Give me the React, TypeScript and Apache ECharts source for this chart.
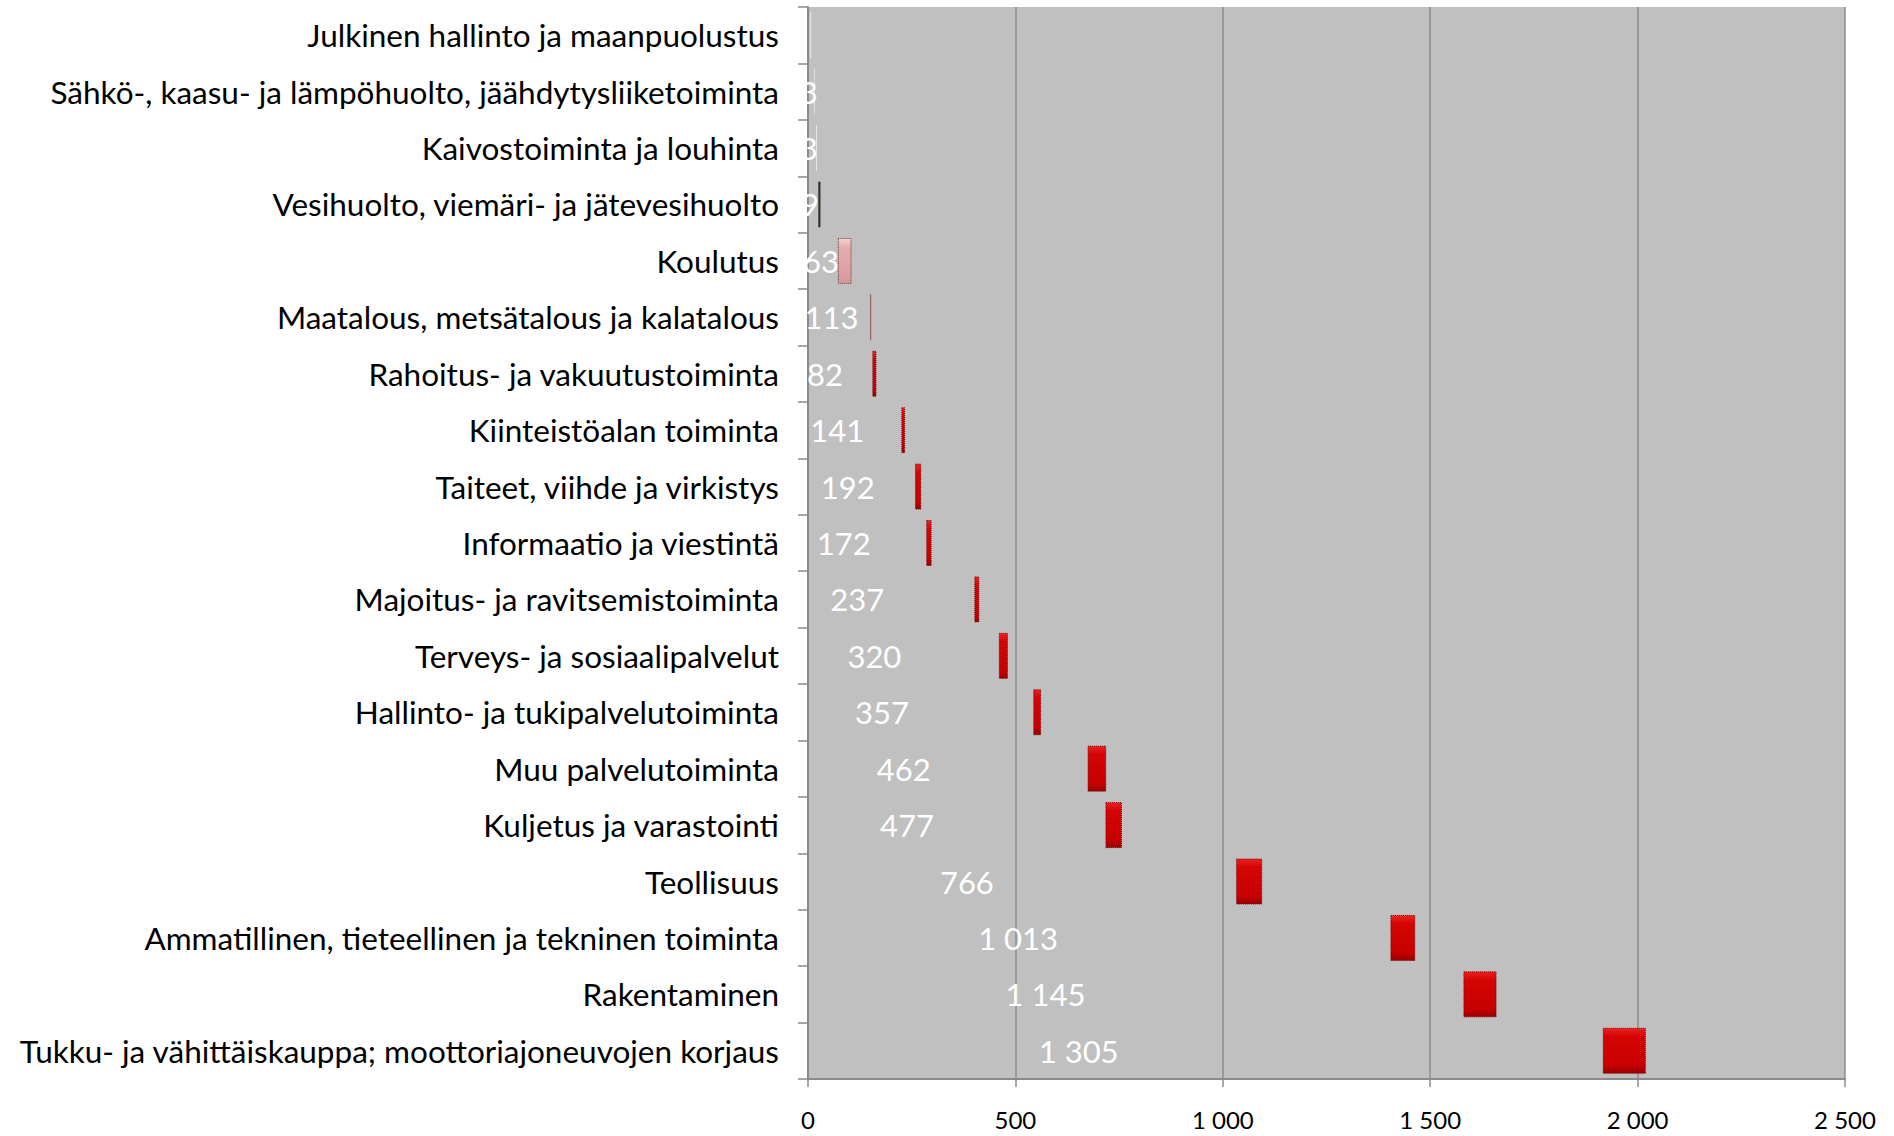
import React, { useEffect, useRef } from "react";
import * as echarts from "echarts";

const categories = [
  "Julkinen hallinto ja maanpuolustus",
  "Sähkö-, kaasu- ja lämpöhuolto, jäähdytysliiketoiminta",
  "Kaivostoiminta ja louhinta",
  "Vesihuolto, viemäri- ja jätevesihuolto",
  "Koulutus",
  "Maatalous, metsätalous ja kalatalous",
  "Rahoitus- ja vakuutustoiminta",
  "Kiinteistöalan toiminta",
  "Taiteet, viihde ja virkistys",
  "Informaatio ja viestintä",
  "Majoitus- ja ravitsemistoiminta",
  "Terveys- ja sosiaalipalvelut",
  "Hallinto- ja tukipalvelutoiminta",
  "Muu palvelutoiminta",
  "Kuljetus ja varastointi",
  "Teollisuus",
  "Ammatillinen, tieteellinen ja tekninen toiminta",
  "Rakentaminen",
  "Tukku- ja vähittäiskauppa; moottoriajoneuvojen korjaus",
];

// value shown as a label
const values: (number | null)[] = [
  null, 3, 3, 9, 63, 113, 82, 141, 192, 172, 237, 320, 357, 462, 477, 766, 1013, 1145, 1305,
];

// start and size of each box along the x axis
const boxStart = [
  6, 15, 20, 25, 72, 150, 155, 225, 258, 285, 401, 460, 543, 674, 717, 1032, 1404, 1580, 1916,
];
const boxSize = [
  1, 1, 1, 5, 33, 2, 10, 9, 15, 13, 12, 22, 19, 45, 40, 63, 60, 80, 104,
];
// tone of each box
const boxTone = [
  "blank", "blank", "blank", "dark", "pink", "line", "red", "red", "red", "red",
  "red", "red", "red", "red", "red", "red", "red", "red", "red",
];

const xTicks = [0, 500, 1000, 1500, 2000, 2500];

const fmt = (v: number) => String(v).replace(/\B(?=(\d{3})+(?!\d))/g, " ");

const redGrad = () =>
  new echarts.graphic.LinearGradient(0, 0, 0, 1, [
    { offset: 0, color: "#EE2020" },
    { offset: 0.18, color: "#D40404" },
    { offset: 0.82, color: "#C80000" },
    { offset: 1, color: "#980000" },
  ]);

const toneStyle = (tone: string) => {
  switch (tone) {
    case "blank":
      return { color: "rgba(255,255,255,0)", borderColor: "#F4F4F4", borderWidth: 1, borderType: "dotted" };
    case "dark":
      return { color: "#3A3A3A", borderColor: "#2A2A2A", borderWidth: 1 };
    case "pink":
      return {
        color: new echarts.graphic.LinearGradient(0, 0, 0, 1, [
          { offset: 0, color: "#F4D0D0" },
          { offset: 0.2, color: "#E4AEAE" },
          { offset: 1, color: "#D49A9A" },
        ]),
        borderColor: "#6A3A3A",
        borderWidth: 1,
        borderType: "dotted",
      };
    case "line":
      return { color: "#8A4A4A", borderColor: "#8A4A4A", borderWidth: 0.5 };
    default:
      return { color: redGrad(), borderColor: "#7A0000", borderWidth: 1, borderType: "dotted" };
  }
};

export default function App() {
  const ref = useRef<HTMLDivElement>(null);
  useEffect(() => {
    if (!ref.current) return;
    const chart = echarts.init(ref.current, null, { renderer: "svg" });
    const font = "Lato, 'Open Sans', sans-serif";
    chart.setOption({
      animation: false,
      grid: {
        left: 808,
        top: 7,
        right: 49,
        bottom: 57,
        show: true,
        backgroundColor: "#C0C0C0",
        borderWidth: 0,
      },
      xAxis: {
        type: "value",
        min: xTicks[0],
        max: xTicks[xTicks.length - 1],
        interval: 500,
        axisLine: { show: true, lineStyle: { color: "#8A8A8A", width: 2 } },
        axisTick: { show: true, length: 8, lineStyle: { color: "#8A8A8A", width: 1.5 } },
        splitLine: { show: true, lineStyle: { color: "#8C8C8C", width: 1.5 } },
        axisLabel: {
          margin: 28,
          color: "#000",
          fontFamily: font,
          fontSize: 24,
          formatter: (v: number) => fmt(v),
        },
      },
      yAxis: {
        type: "category",
        inverse: true,
        data: categories,
        axisLine: { show: true, lineStyle: { color: "#8A8A8A", width: 2 } },
        axisTick: { show: true, length: 10, lineStyle: { color: "#8A8A8A", width: 1.5 } },
        splitLine: { show: false },
        axisLabel: {
          margin: 29,
          color: "#000",
          fontFamily: font,
          fontSize: 31.5,
        },
      },
      series: [
        {
          type: "bar",
          stack: "box",
          barWidth: 46,
          barGap: "-100%",
          silent: true,
          itemStyle: { color: "rgba(0,0,0,0)" },
          data: boxStart,
          z: 2,
        },
        {
          type: "bar",
          stack: "box",
          barWidth: 46,
          barGap: "-100%",
          silent: true,
          data: boxSize.map((v, i) => ({ value: v, itemStyle: toneStyle(boxTone[i]) })),
          z: 3,
        },
        {
          type: "bar",
          stack: "lbl",
          barWidth: 46,
          barGap: "-100%",
          silent: true,
          itemStyle: { color: "rgba(0,0,0,0)" },
          label: {
            show: true,
            position: "inside",
            color: "#FFFFFF",
            fontFamily: font,
            fontSize: 31,
            formatter: (p: any) => (p.value == null || p.value === "-" ? "" : fmt(p.value)),
          },
          data: values.map((v) => (v == null ? "-" : v)),
          z: 4,
        },
      ],
    });
    return () => chart.dispose();
  }, []);
  return (
    <div
      ref={ref}
      style={{ position: "absolute", left: 0, top: 0, width: 1894, height: 1136 }}
    />
  );
}
